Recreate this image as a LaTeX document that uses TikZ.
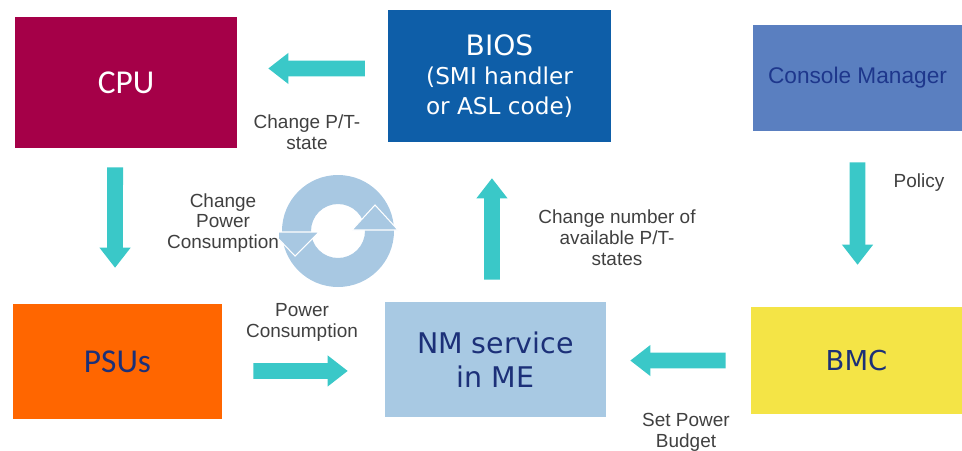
\documentclass[tikz,border=0pt]{standalone}
\usepackage{fontspec}
\setmainfont{Liberation Sans}
\newfontfamily\dejavu{DejaVu Sans}
\newfontfamily\carlito{Carlito}
\usetikzlibrary{arrows.meta}
\definecolor{cpured}{RGB}{165,0,72}
\definecolor{biosblue}{RGB}{14,94,168}
\definecolor{consoleblue}{RGB}{90,127,192}
\definecolor{psuorange}{RGB}{255,102,0}
\definecolor{nmblue}{RGB}{168,201,227}
\definecolor{bmcyellow}{RGB}{244,228,70}
\definecolor{flowteal}{RGB}{58,200,200}
\definecolor{ringblue}{RGB}{168,200,226}
\definecolor{navytext}{RGB}{28,48,120}
\definecolor{consoletext}{RGB}{30,55,140}
\definecolor{labelgray}{RGB}{64,64,64}
\begin{document}
\begin{tikzpicture}[x=0.02cm,y=-0.02cm,
    box/.style={inner sep=0pt,align=center},
    flow/.style={draw=flowteal,line width=9pt,-{Triangle[width=17pt,length=11.5pt]}},
    lbl/.style={align=center,text=labelgray,inner sep=0pt,font=\fontsize{10.8}{11.9}\selectfont}]
                \useasboundingbox(0,0)rectangle(962,450);
                % boxes
                \node[box,fill=cpured,minimum width=4.44cm,minimum height=2.62cm,text=white,
                    font=\carlito\fontsize{19}{22}\selectfont](cpu)at(126,82.5){CPU};
                \node[box,fill=biosblue,minimum width=4.46cm,minimum height=2.64cm,text=white,
                    font=\dejavu\fontsize{13.2}{17}\selectfont](bios)at(499.5,76)
                    {{\fontsize{16}{18}\selectfont BIOS}\\(SMI handler\\or ASL code)};
                \node[box,fill=consoleblue,minimum width=4.18cm,minimum height=2.12cm,text=consoletext,
                    font=\fontsize{12.9}{15}\selectfont](console)at(857.5,78){Console Manager};
                \node[box,fill=psuorange,minimum width=4.18cm,minimum height=2.3cm,text=navytext,
                    font=\carlito\fontsize{19}{22}\selectfont](psu)at(117.5,361.5){PSUs};
                \node[box,fill=nmblue,minimum width=4.42cm,minimum height=2.3cm,text=navytext,
                    font=\dejavu\fontsize{16.2}{19.3}\selectfont](nm)at(495.5,359.5){NM service\\in ME};
                \node[box,fill=bmcyellow,minimum width=4.22cm,minimum height=2.14cm,text=navytext,
                    font=\dejavu\fontsize{15.6}{18}\selectfont](bmc)at(856.5,360.5){BMC};
                % arrows
                \draw[flow,shorten <=13pt,shorten >=17.6pt]([yshift=4.3pt]bios.west)--([yshift=8pt]cpu.east);
                \draw[flow,shorten <=10.8pt,shorten >=20.4pt]([xshift=-6.2pt]cpu.south)--([xshift=-1.4pt]psu.north);
                \draw[flow,shorten <=17.6pt,shorten >=21pt]([yshift=-5.4pt]psu.east)--([yshift=-6.5pt]nm.west);
                \draw[flow,shorten <=12.5pt,shorten >=20.4pt]([xshift=-2pt]nm.north)--([xshift=-4.3pt]bios.south);
                \draw[flow,shorten <=17.6pt,shorten >=23.8pt](console.south)--([xshift=0.6pt]bmc.north);
                \draw[flow,shorten <=14.2pt,shorten >=13.6pt](bmc.west)--([yshift=-0.6pt]nm.east);
                % cycle
                \fill[ringblue,even odd rule](338,231)circle[radius=56](338,231)circle[radius=27];
                \filldraw[fill=ringblue,draw=white,line width=0.6pt](352,230)--(375,205)--(398,230)--cycle;
                \filldraw[fill=ringblue,draw=white,line width=0.6pt](272,232)--(295,256)--(319,232)--cycle;
                % labels
                \node[lbl](ptstate)at(307,132){Change P/T-\\state};
                \node[lbl,fill=white](chgpower)at(223,223){Change\\Power\\Consumption};
                \node[lbl](powcons)at(302,322){Power\\Consumption};
                \node[lbl](nrstates)at(617,238){Change number of\\available P/T-\\states};
                \node[lbl](policy)at(919,183){Policy};
                \node[lbl](budget)at(686,432){Set Power\\Budget};
            \end{tikzpicture}
\end{document}
